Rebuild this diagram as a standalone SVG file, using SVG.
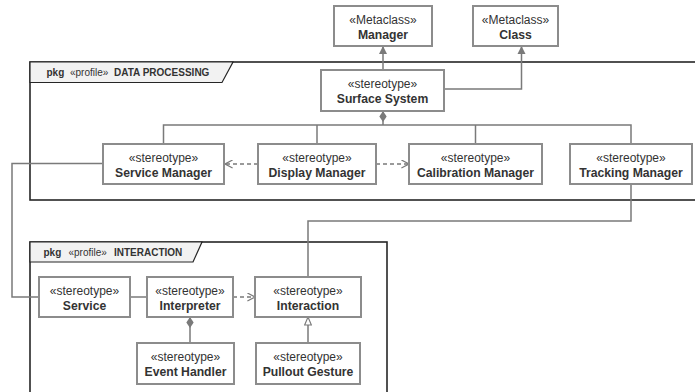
<svg xmlns="http://www.w3.org/2000/svg" width="695" height="392" viewBox="0 0 695 392">
  <style>
    .box { fill: #ffffff; stroke: #8c8c8c; stroke-width: 2; }
    .frame { fill: none; stroke: #262626; stroke-width: 1.6; }
    .tab { fill: #f2f2f2; stroke: #262626; stroke-width: 1.2; }
    .st { font-family: "Liberation Sans", Arial, sans-serif; font-size: 12px; fill: #333333; text-anchor: middle; }
    .nm { font-family: "Liberation Sans", Arial, sans-serif; font-size: 12.2px; font-weight: bold; fill: #333333; text-anchor: middle; }
    .tb { font-family: "Liberation Sans", Arial, sans-serif; font-size: 10px; fill: #333333; }
    .tbb { font-weight: bold; }
    .ln { fill: none; stroke: #7a7a7a; stroke-width: 1.5; }
    .dash { fill: none; stroke: #7a7a7a; stroke-width: 1.5; stroke-dasharray: 4 3; }
  </style>
  <defs>
    <marker id="ext" viewBox="0 0 10 10" refX="10" refY="5" markerWidth="8" markerHeight="10" markerUnits="userSpaceOnUse" orient="auto">
      <path d="M0,0 L10,5 L0,10 Z" fill="#7a7a7a"/>
    </marker>
    <marker id="open" viewBox="0 0 10 10" refX="9.5" refY="5" markerWidth="8" markerHeight="9" markerUnits="userSpaceOnUse" orient="auto">
      <path d="M0,0 L9.5,5 L0,10" fill="none" stroke="#7a7a7a" stroke-width="1.6"/>
    </marker>
    <marker id="gen" viewBox="0 0 12 10" refX="11" refY="5" markerWidth="10" markerHeight="8" markerUnits="userSpaceOnUse" orient="auto">
      <path d="M1,0.8 L11,5 L1,9.2 Z" fill="#ffffff" stroke="#7a7a7a" stroke-width="1.4"/>
    </marker>
    <marker id="comp" viewBox="0 0 12 8" refX="0" refY="4" markerWidth="11" markerHeight="8" markerUnits="userSpaceOnUse" orient="auto">
      <path d="M0,4 L6,0 L12,4 L6,8 Z" fill="#7a7a7a"/>
    </marker>
  </defs>

  <!-- package frames -->
  <g id="pkg-data-processing">
    <rect class="frame" x="30" y="62" width="680" height="138"/>
    <path class="tab" d="M30,62 H233 L222,82.5 H30 Z"/>
    <text class="tb" y="76"><tspan class="tbb" x="46.5">pkg</tspan><tspan x="70">«profile»</tspan><tspan class="tbb" x="114">DATA PROCESSING</tspan></text>
  </g>
  <g id="pkg-interaction">
    <rect class="frame" x="30" y="242" width="357" height="170"/>
    <path class="tab" d="M30,242 H202 L193,262 H30 Z"/>
    <text class="tb" y="256"><tspan class="tbb" x="43.5">pkg</tspan><tspan x="68.5">«profile»</tspan><tspan class="tbb" x="114">INTERACTION</tspan></text>
  </g>

  <!-- connectors -->
  <g id="connectors">
    <path class="ln" d="M383,70 V46" marker-end="url(#ext)"/>
    <path class="ln" d="M444,89 H521.5 V46" marker-end="url(#ext)"/>
    <path class="ln" d="M383,111 V125" marker-start="url(#comp)"/>
    <path class="ln" d="M163.5,144 V125 H631 V144"/>
    <path class="ln" d="M317,125 V144"/>
    <path class="ln" d="M475.5,125 V144"/>
    <path class="dash" d="M258,164 H225" marker-end="url(#open)"/>
    <path class="dash" d="M376,164 H409" marker-end="url(#open)"/>
    <path class="ln" d="M103,163.5 H12 V297 H39"/>
    <path class="ln" d="M631,184 V221 H308 V277"/>
    <path class="ln" d="M130,297 H147"/>
    <path class="dash" d="M233,297 H255" marker-end="url(#open)"/>
    <path class="ln" d="M190,317 V343" marker-start="url(#comp)"/>
    <path class="ln" d="M308,343 V317" marker-end="url(#gen)"/>
  </g>

  <!-- nodes -->
  <g id="manager">
    <rect class="box" x="334" y="6" width="98" height="40"/>
    <text class="st" x="383" y="24">«Metaclass»</text>
    <text class="nm" x="383" y="39">Manager</text>
  </g>
  <g id="class">
    <rect class="box" x="473" y="6" width="85" height="40"/>
    <text class="st" x="515.5" y="24">«Metaclass»</text>
    <text class="nm" x="515.5" y="39">Class</text>
  </g>
  <g id="surface-system">
    <rect class="box" x="321" y="70" width="123" height="41"/>
    <text class="st" x="382.5" y="87.5">«stereotype»</text>
    <text class="nm" x="382.5" y="102.5">Surface System</text>
  </g>
  <g id="service-manager">
    <rect class="box" x="103" y="144" width="121" height="40"/>
    <text class="st" x="163.5" y="162">«stereotype»</text>
    <text class="nm" x="163.5" y="177">Service Manager</text>
  </g>
  <g id="display-manager">
    <rect class="box" x="258" y="144" width="118" height="40"/>
    <text class="st" x="317" y="162">«stereotype»</text>
    <text class="nm" x="317" y="177">Display Manager</text>
  </g>
  <g id="calibration-manager">
    <rect class="box" x="409" y="144" width="133" height="40"/>
    <text class="st" x="475.5" y="162">«stereotype»</text>
    <text class="nm" x="475.5" y="177">Calibration Manager</text>
  </g>
  <g id="tracking-manager">
    <rect class="box" x="570" y="144" width="122" height="40"/>
    <text class="st" x="631" y="162">«stereotype»</text>
    <text class="nm" x="631" y="177">Tracking Manager</text>
  </g>
  <g id="service">
    <rect class="box" x="39" y="277" width="91" height="40"/>
    <text class="st" x="84.5" y="295">«stereotype»</text>
    <text class="nm" x="84.5" y="309.5">Service</text>
  </g>
  <g id="interpreter">
    <rect class="box" x="147" y="277" width="86" height="40"/>
    <text class="st" x="190" y="295">«stereotype»</text>
    <text class="nm" x="190" y="309.5">Interpreter</text>
  </g>
  <g id="interaction">
    <rect class="box" x="255" y="277" width="106" height="40"/>
    <text class="st" x="308" y="295">«stereotype»</text>
    <text class="nm" x="308" y="309.5">Interaction</text>
  </g>
  <g id="event-handler">
    <rect class="box" x="137" y="343" width="97" height="41"/>
    <text class="st" x="185.5" y="361">«stereotype»</text>
    <text class="nm" x="185.5" y="375.5">Event Handler</text>
  </g>
  <g id="pullout-gesture">
    <rect class="box" x="256" y="343" width="104" height="41"/>
    <text class="st" x="308" y="361">«stereotype»</text>
    <text class="nm" x="308" y="375.5">Pullout Gesture</text>
  </g>
</svg>
